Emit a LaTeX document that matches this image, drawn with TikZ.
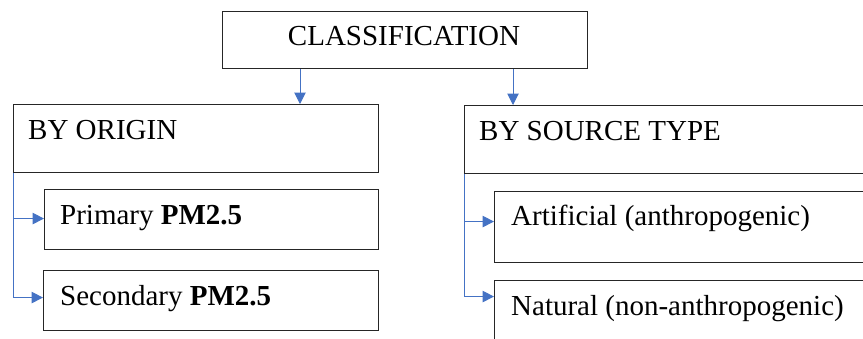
\documentclass[tikz,border=0pt]{standalone}
\usepackage{fontspec}
\setmainfont{Liberation Serif}
\usetikzlibrary{arrows.meta,calc}
\definecolor{connblue}{HTML}{4472C4}
\tikzset{
  box/.style={draw=black!85, line width=1.1pt, rectangle, inner sep=0pt, anchor=north west},
  lbl/.style={inner sep=0pt, anchor=base west, font=\fontsize{29}{34}\selectfont},
  conn/.style={draw=connblue, line width=1pt, -{Triangle[length=11.5pt,width=11.5pt]}}
}
\begin{document}
\begin{tikzpicture}[x=1pt,y=-1pt]
\useasboundingbox (0,0) rectangle (863,338);
% boxes
\node[box, minimum width=365pt, minimum height=57pt] (class) at (222,11) {};
\node[box, minimum width=365pt, minimum height=68pt] (origin) at (13,104) {};
\node[box, minimum width=334pt, minimum height=60pt] (prim) at (44,189) {};
\node[box, minimum width=335pt, minimum height=60pt] (sec) at (43,270) {};
\node[box, minimum width=420pt, minimum height=68pt] (src) at (464,105) {};
\node[box, minimum width=390pt, minimum height=71pt] (art) at (494,191) {};
\node[box, minimum width=390pt, minimum height=70pt] (nat) at (494,280) {};
% texts
\node[inner sep=0pt, anchor=base, font=\fontsize{29}{34}\selectfont] (tclass) at (404,45) {CLASSIFICATION};
\node[lbl] (torigin) at (28,139) {BY ORIGIN};
\node[lbl] (tprim) at (60,224) {Primary \textbf{PM2.5}};
\node[lbl] (tsec) at (60,305) {Secondary \textbf{PM2.5}};
\node[lbl] (tsrc) at (479,140) {BY SOURCE TYPE};
\node[lbl] (tart) at (511,225) {Artificial (anthropogenic)};
\node[lbl] (tnat) at (511,315) {Natural (non-anthropogenic)};
% connectors
\coordinate (lx) at (300,0);
\coordinate (rx) at (513,0);
\draw[conn] (class.south -| lx) -- (origin.north -| lx);
\draw[conn] (class.south -| rx) -- (src.north -| rx);
\draw[conn] (origin.south west) |- ([yshift=1pt]prim.west);
\draw[conn] (origin.south west) |- ([yshift=3pt]sec.west);
\draw[conn] (src.south west) |- ([yshift=5.5pt]art.west);
\draw[conn] (src.south west) |- ([yshift=19pt]nat.west);
\end{tikzpicture}
\end{document}
